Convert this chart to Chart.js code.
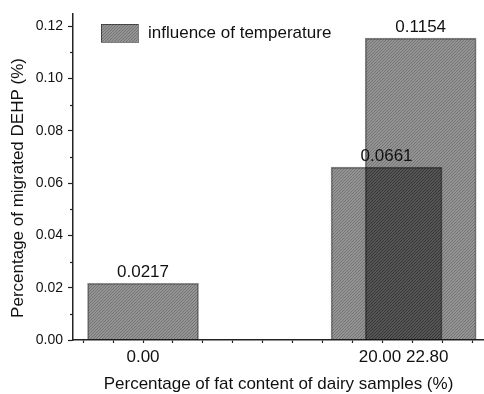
<!DOCTYPE html>
<html>
<head>
<meta charset="utf-8">
<title>Migrated DEHP</title>
<script src="https://cdn.jsdelivr.net/npm/chart.js"></script>
<style>
  html, body { margin: 0; padding: 0; background: #fff; }
  #chartContainer { width: 484px; height: 394px; }
</style>
</head>
<body>
<div id="chartContainer">
  <canvas id="myChart" width="484" height="394"></canvas>
</div>
<script>
const fatContent = [0, 20, 22.8];
const fatLabels = ['0.00', '20.00', '22.80'];
const migrated = [0.0217, 0.0661, 0.1154];
const valueLabels = ['0.0217', '0.0661', '0.1154'];
const yTicks = [0, 0.02, 0.04, 0.06, 0.08, 0.10, 0.12];
const yMinorTicks = [0.01, 0.03, 0.05, 0.07, 0.09, 0.11];
const xMinorTicks = [-4.92, -2.46, 0, 2.46, 4.92, 7.38, 9.84, 12.30, 14.76, 17.22, 19.68, 22.14, 24.60, 27.06];
const seriesName = 'influence of temperature';
const yTitle = 'Percentage of migrated DEHP (%)';

const FONT = '"Liberation Sans", Arial, sans-serif';
const TEXT = '#111';
const AXIS = '#222';

// hatched fill, semi transparent so the overlapping bars get darker
function makeHatch() {
  const c = document.createElement('canvas');
  c.width = 3; c.height = 3;
  const g = c.getContext('2d');
  g.fillStyle = 'rgba(0,0,0,0.42)';
  g.fillRect(0, 0, 3, 3);
  g.fillStyle = 'rgba(0,0,0,0.22)';
  g.fillRect(0, 2, 1, 1);
  g.fillRect(1, 1, 1, 1);
  g.fillRect(2, 0, 1, 1);
  return g.createPattern(c, 'repeat');
}
const ctx = document.getElementById('myChart').getContext('2d');
const hatch = makeHatch();

// small tick marks, x labels, bar values, y title and legend
const decor = {
  id: 'decor',
  afterDatasetsDraw(chart) {
    const c = chart.ctx;
    const xs = chart.scales.x, ys = chart.scales.y;
    const area = chart.chartArea;
    const meta = chart.getDatasetMeta(0);
    c.save();
    c.fillStyle = TEXT;
    c.font = '17px ' + FONT;
    c.textAlign = 'center';
    c.textBaseline = 'alphabetic';
    meta.data.forEach((el, i) => {
      c.fillText(valueLabels[i], el.x, el.y - 6);
    });

    // minor y ticks
    c.strokeStyle = AXIS;
    c.lineWidth = 1.2;
    yMinorTicks.forEach(v => {
      const py = Math.round(ys.getPixelForValue(v)) + 0.5;
      c.beginPath();
      c.moveTo(ys.right - 3, py);
      c.lineTo(ys.right, py);
      c.stroke();
    });

    // x labels, pushed apart where they would collide
    const pos = fatContent.map(v => xs.getPixelForValue(v));
    const w = fatLabels.map(t => c.measureText(t).width);
    const gap = c.measureText(' ').width;
    for (let i = 1; i < pos.length; i++) {
      const need = (w[i - 1] + w[i]) / 2 + gap;
      const have = pos[i] - pos[i - 1];
      if (have < need) {
        const d = (need - have) / 2;
        pos[i - 1] -= d;
        pos[i] += d;
      }
    }
    c.textBaseline = 'middle';
    fatLabels.forEach((t, i) => c.fillText(t, pos[i], xs.top + 17));

    // y title, sits a little below the middle as in the original
    c.save();
    c.translate(ys.left + 18, (area.top + area.bottom) / 2 + 11);
    c.rotate(-Math.PI / 2);
    c.fillText(yTitle, 0, 0);
    c.restore();

    // legend
    const bx = area.left + 28, by = area.top + 10;
    c.fillStyle = hatch;
    c.fillRect(bx, by, 37, 18);
    c.strokeStyle = 'rgba(0,0,0,0.5)';
    c.lineWidth = 1;
    c.strokeRect(bx + 0.5, by + 0.5, 37, 18);
    c.fillStyle = TEXT;
    c.textAlign = 'left';
    c.fillText(seriesName, bx + 47, by + 9);
    c.restore();
  }
};

const myChart = new Chart(ctx, {
  type: 'bar',
  data: {
    datasets: [{
      label: seriesName,
      data: fatContent.map((x, i) => ({ x: x, y: migrated[i] })),
      backgroundColor: hatch,
      borderColor: 'rgba(0,0,0,0.45)',
      borderWidth: 1,
      borderSkipped: 'bottom',
      barThickness: 111
    }]
  },
  options: {
    responsive: false,
    animation: false,
    devicePixelRatio: 1,
    layout: { padding: { top: 14, right: 0, left: 0, bottom: 0 } },
    plugins: {
      legend: { display: false },
      tooltip: { enabled: false }
    },
    scales: {
      x: {
        type: 'linear',
        min: -5.75,
        max: 28,
        offset: false,
        afterBuildTicks: s => { s.ticks = xMinorTicks.map(v => ({ value: v })); },
        afterFit: s => { s.height = 54; },
        grid: { offset: false, drawOnChartArea: false, tickLength: 3, color: AXIS, tickWidth: 1.2 },
        border: { color: AXIS, width: 1.5 },
        ticks: { display: false },
        title: {
          display: true,
          text: 'Percentage of fat content of dairy samples (%)',
          color: TEXT,
          font: { family: FONT, size: 17 },
          padding: { top: 0, bottom: -1 }
        }
      },
      y: {
        min: 0,
        max: 0.1246,
        afterBuildTicks: s => { s.ticks = yTicks.map(v => ({ value: v })); },
        afterFit: s => { s.width = 73; },
        grid: { drawOnChartArea: false, tickLength: 5, color: AXIS, tickWidth: 1.2 },
        border: { color: AXIS, width: 1.5 },
        ticks: {
          color: TEXT,
          font: { family: FONT, size: 14 },
          padding: 5,
          callback: v => v.toFixed(2)
        }
      }
    }
  },
  plugins: [decor]
});
</script>
</body>
</html>
